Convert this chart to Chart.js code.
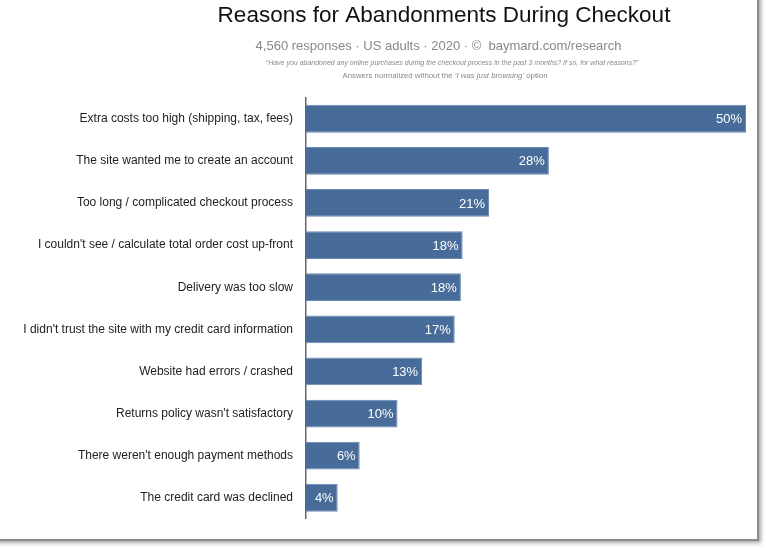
<!DOCTYPE html>
<html><head><meta charset="utf-8">
<script src="https://cdn.jsdelivr.net/npm/chart.js@4.4.0/dist/chart.umd.min.js"></script>
<style>
html,body{margin:0;padding:0;background:#fff;overflow:hidden;}
#card{position:absolute;left:-10px;top:-10px;width:767px;height:549px;background:#fff;box-shadow:2px 2px 0 #8a8a8a, 4px 4px 4px rgba(0,0,0,0.35);}
#wrap{position:absolute;left:10px;top:10px;width:757px;height:539px;}
</style></head><body>
<div id="card"><div id="wrap"><canvas id="c"></canvas></div></div>
<script>
const categories = [
  "Extra costs too high (shipping, tax, fees)",
  "The site wanted me to create an account",
  "Too long / complicated checkout process",
  "I couldn't see / calculate total order cost up-front",
  "Delivery was too slow",
  "I didn't trust the site with my credit card information",
  "Website had errors / crashed",
  "Returns policy wasn't satisfactory",
  "There weren't enough payment methods",
  "The credit card was declined"
];
const values = [50.0, 27.6, 20.8, 17.8, 17.6, 16.9, 13.2, 10.4, 6.1, 3.6];
const valueLabels = ["50%", "28%", "21%", "18%", "18%", "17%", "13%", "10%", "6%", "4%"];
const titleText = "Reasons for Abandonments During Checkout";
const subtitleText = "4,560 responses \u00b7 US adults \u00b7 2020 \u00b7 \u00a9  baymard.com/research";
const noteLine1 = "\u201cHave you abandoned any online purchases during the checkout process in the past 3 months? If so, for what reasons?\u201d";
const noteLine2 = ["Answers normalized without the ", "\u2018I was just browsing\u2019", " option"];

const FONT = "'Liberation Sans', Arial, Helvetica, sans-serif";

const headerPlugin = {
  id: 'header',
  afterDraw(chart) {
    const ctx = chart.ctx;
    const cx = 444;
    ctx.save();
    ctx.textBaseline = 'alphabetic';
    ctx.textAlign = 'center';
    ctx.fillStyle = '#111';
    ctx.font = "22.5px " + FONT;
    ctx.fillText(titleText, cx, 22);
    ctx.fillStyle = '#888';
    ctx.font = "13px " + FONT;
    ctx.fillText(subtitleText, 438.5, 50);
    ctx.font = "italic 7px " + FONT;
    ctx.fillText(noteLine1, 452, 65);
    const fonts = ["7.8px " + FONT, "italic 7.8px " + FONT, "7.8px " + FONT];
    let total = 0;
    const widths = noteLine2.map((t, i) => { ctx.font = fonts[i]; const w = ctx.measureText(t).width; total += w; return w; });
    let x = 445 - total / 2;
    ctx.textAlign = 'left';
    noteLine2.forEach((t, i) => { ctx.font = fonts[i]; ctx.fillText(t, x, 78); x += widths[i]; });
    ctx.restore();
  }
};

const valueLabelPlugin = {
  id: 'valueLabels',
  afterDatasetsDraw(chart) {
    const ctx = chart.ctx;
    const meta = chart.getDatasetMeta(0);
    ctx.save();
    ctx.fillStyle = '#fff';
    ctx.font = "13px " + FONT;
    ctx.textAlign = 'right';
    ctx.textBaseline = 'middle';
    meta.data.forEach((bar, i) => {
      ctx.fillText(valueLabels[i], bar.x - 4, bar.y + 1);
    });
    ctx.restore();
  }
};

new Chart(document.getElementById('c'), {
  type: 'bar',
  data: {
    labels: categories,
    datasets: [{
      data: values,
      backgroundColor: '#486c9a',
      borderColor: '#6a88b0',
      borderWidth: 1,
      barPercentage: 0.66,
      categoryPercentage: 1.0
    }]
  },
  options: {
    indexAxis: 'y',
    responsive: true,
    maintainAspectRatio: false,
    animation: false,
    layout: { padding: { left: 0, right: 11, top: 97.7, bottom: 15.7 } },
    plugins: { legend: { display: false }, tooltip: { enabled: false }, title: { display: false } },
    scales: {
      x: { display: false, min: 0, max: 50 },
      y: {
        grid: { display: false, drawTicks: false },
        border: { display: true, color: '#666', width: 1.5 },
        ticks: { color: '#222', padding: 13, font: { family: FONT, size: 12 } },
        afterFit(scale) { scale.width = 306; }
      }
    }
  },
  plugins: [headerPlugin, valueLabelPlugin]
});
</script>
</body></html>
